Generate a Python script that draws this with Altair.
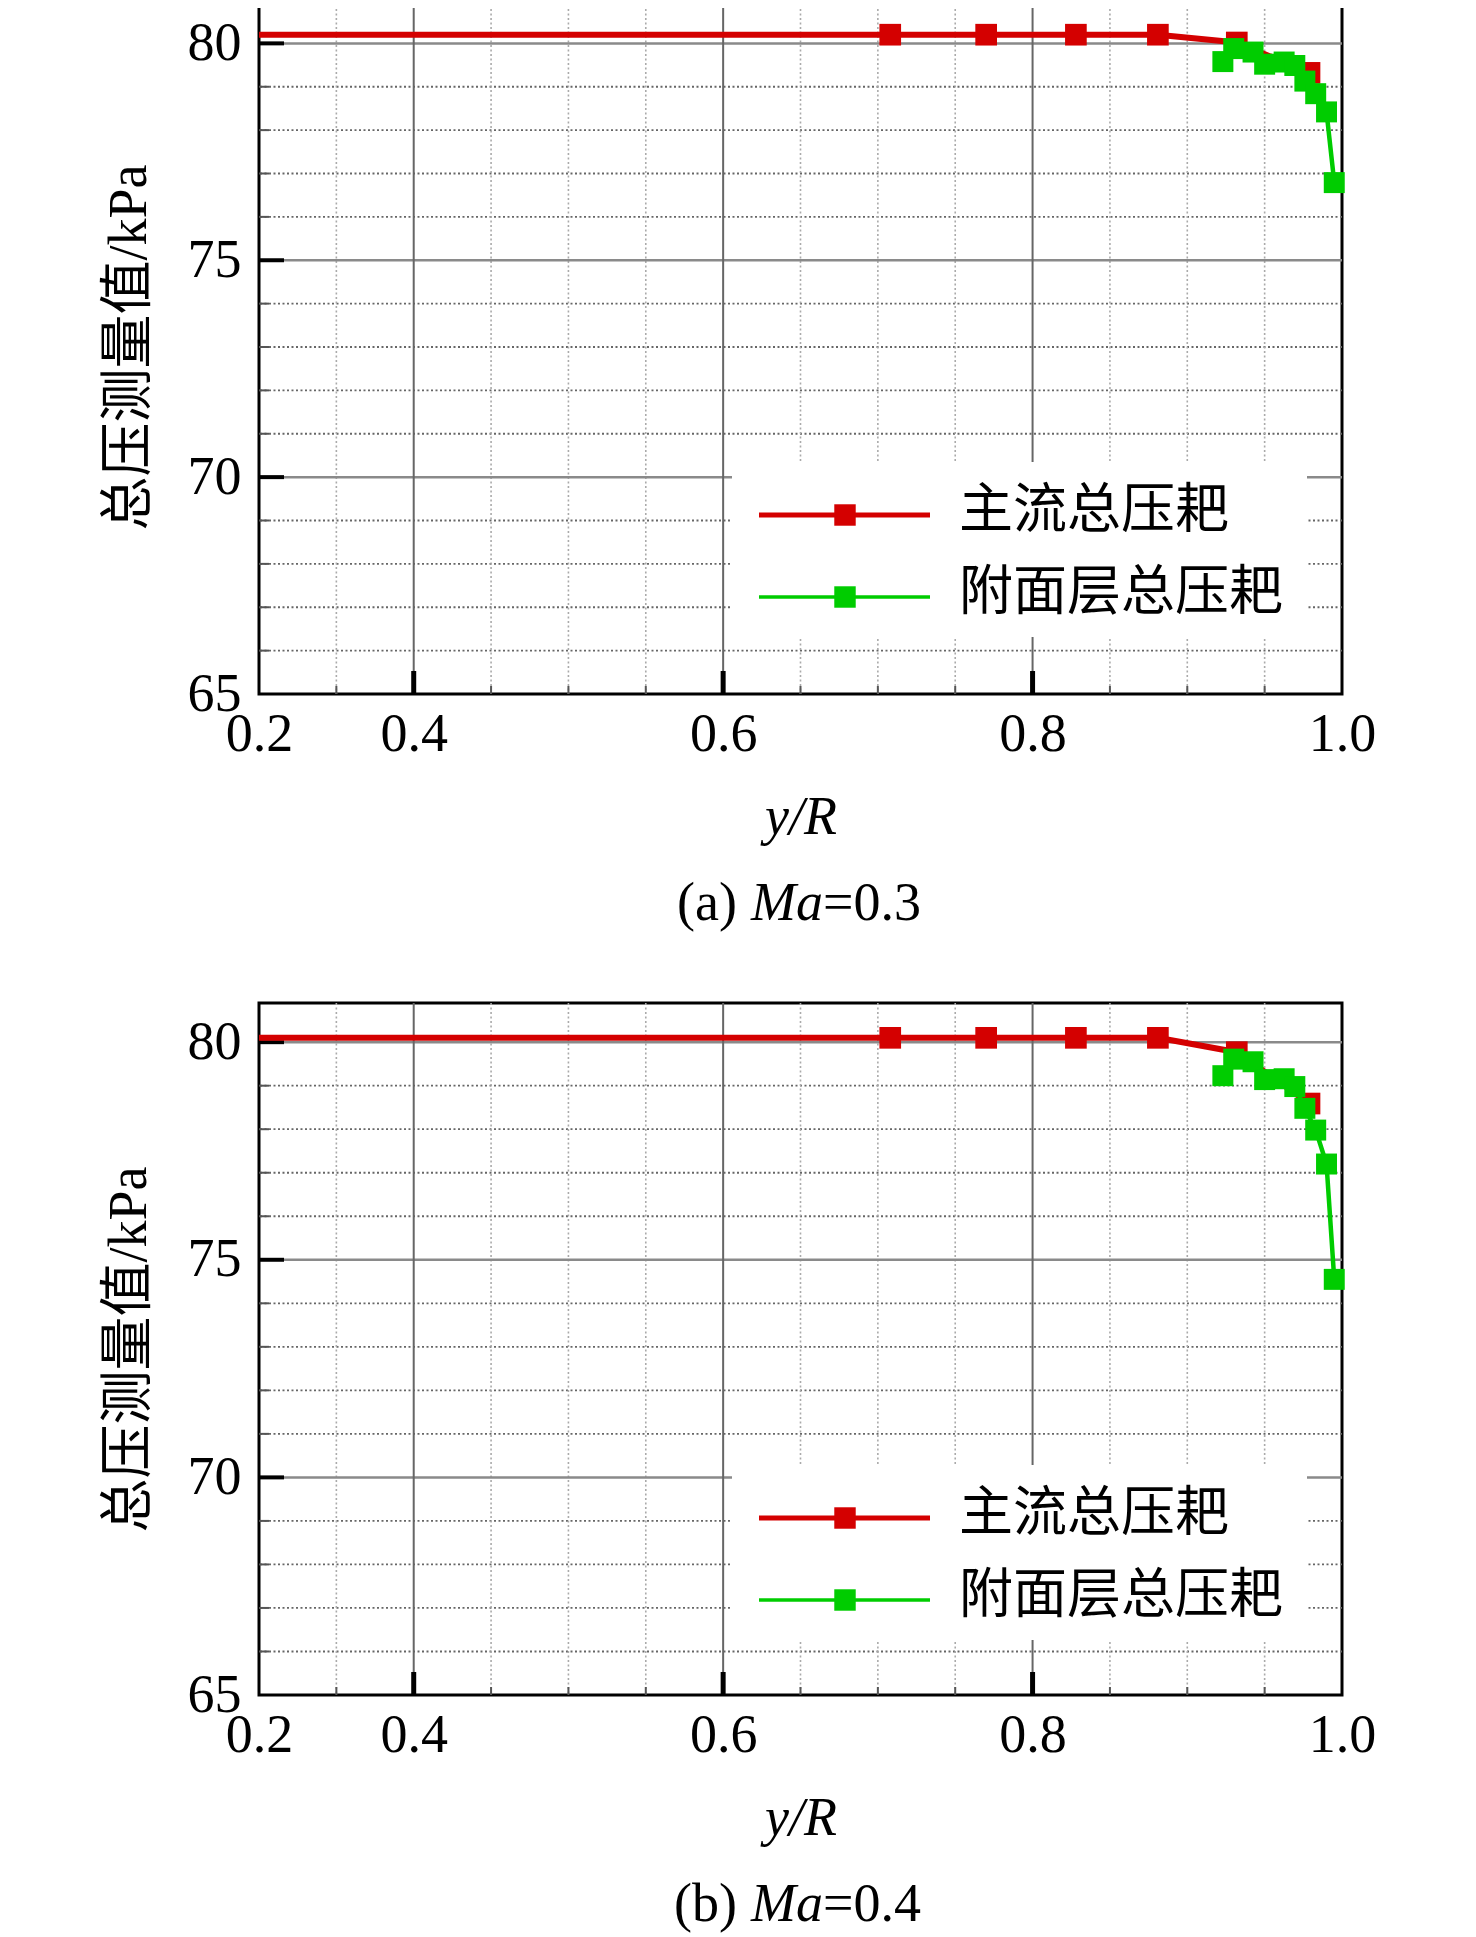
import altair as alt
import pandas as pd

# ---------------- data ----------------
series_names = ["主流总压耙", "附面层总压耙"]
series_colors = ["#d40000", "#00cc00"]

# main-flow rake (red); first point only carries the line to the left edge
red_x = [0.30, 0.708, 0.770, 0.828, 0.881, 0.932, 0.979]
red_marker = [False, True, True, True, True, True, True]
red_a = [80.2, 80.2, 80.2, 80.2, 80.2, 80.02, 79.32]
red_b = [80.1, 80.1, 80.1, 80.1, 80.1, 79.77, 78.59]

# boundary-layer rake (green)
green_x = [0.923, 0.930, 0.9425, 0.950, 0.9626, 0.9695, 0.976, 0.983, 0.990, 0.995]
green_a = [79.58, 79.88, 79.80, 79.52, 79.57, 79.49, 79.13, 78.84, 78.42, 76.79]
green_b = [79.23, 79.61, 79.55, 79.14, 79.16, 78.98, 78.48, 77.98, 77.20, 74.55]

x_tick_values = [0.3, 0.4, 0.6, 0.8, 1.0]
y_tick_values = [65, 70, 75, 80]
x_major = [0.4, 0.6, 0.8]
x_minor = [0.35, 0.45, 0.5, 0.55, 0.65, 0.7, 0.75, 0.85, 0.9, 0.95]
y_major = [70, 75, 80]
y_minor = [66, 67, 68, 69, 71, 72, 73, 74, 76, 77, 78, 79]

captions = [("(a)", "Ma", "=0.3"), ("(b)", "Ma", "=0.4")]

SERIF = "Liberation Serif, Times New Roman, serif"
CJK = "Liberation Serif, Noto Sans CJK SC, sans-serif"
FS = 54
W = 1083


def panel(red_y, green_y, ytop, H, cap):
    xs = alt.Scale(domain=[0.3, 1.0], nice=False, zero=False)
    ys = alt.Scale(domain=[65, ytop], nice=False, zero=False)
    xaxis = alt.Axis(
        values=x_tick_values,
        labelExpr="datum.value < 0.35 ? '0.2' : format(datum.value, '.1f')",
        grid=False, ticks=False, tickSize=0, domain=False,
        labelFont=SERIF, labelFontSize=FS, labelColor="black",
        labelPadding=13, labelFlush=False, labelOverlap=False,
        title="y/R", titleFont=SERIF, titleFontSize=FS, titleFontStyle="italic",
        titleFontWeight="normal", titleColor="black", titleY=139,
        titleBaseline="alphabetic",
    )
    yaxis = alt.Axis(
        values=y_tick_values, format="d",
        grid=False, ticks=False, tickSize=0, domain=False,
        labelFont=SERIF, labelFontSize=FS, labelColor="black",
        labelPadding=18, labelBaseline="middle", labelFlush=False, labelOverlap=False,
        title="总压测量值/kPa", titleFont=CJK, titleFontSize=FS,
        titleFontWeight="normal", titleColor="black",
        titleX=-130, titleY=H / 2, titleAngle=270, titleAlign="center",
        titleBaseline="middle",
    )
    X = alt.X("x:Q", scale=xs, axis=xaxis)
    Y = alt.Y("y:Q", scale=ys, axis=yaxis)

    layers = []
    # grid
    layers.append(alt.Chart(pd.DataFrame({"y": y_minor})).mark_rule(
        color="#666", strokeWidth=1.8, strokeDash=[2, 2.5]).encode(y=Y))
    layers.append(alt.Chart(pd.DataFrame({"x": x_minor})).mark_rule(
        color="#aaa", strokeWidth=1.6, strokeDash=[2, 2.5]).encode(x=X))
    layers.append(alt.Chart(pd.DataFrame({"y": y_major})).mark_rule(
        color="#8a8a8a", strokeWidth=2.5).encode(y=Y))
    layers.append(alt.Chart(pd.DataFrame({"x": x_major})).mark_rule(
        color="#666", strokeWidth=2).encode(x=X))
    # legend background
    layers.append(alt.Chart(pd.DataFrame({"k": [0]})).mark_rect(
        fill="white", stroke=None).encode(
        x=alt.value(473), x2=alt.value(1048), y=alt.value(462), y2=alt.value(637)))
    # inward ticks
    layers.append(alt.Chart(pd.DataFrame({"x": x_major})).mark_rule(
        color="black", strokeWidth=5).encode(x=X, y=alt.value(H), y2=alt.value(H - 23)))
    layers.append(alt.Chart(pd.DataFrame({"x": x_minor})).mark_rule(
        color="#555", strokeWidth=2).encode(x=X, y=alt.value(H), y2=alt.value(H - 8)))
    layers.append(alt.Chart(pd.DataFrame({"y": y_major})).mark_rule(
        color="black", strokeWidth=4).encode(y=Y, x=alt.value(0), x2=alt.value(25)))
    layers.append(alt.Chart(pd.DataFrame({"y": y_minor})).mark_rule(
        color="#555", strokeWidth=2).encode(y=Y, x=alt.value(0), x2=alt.value(10)))
    # data
    dred = pd.DataFrame({"x": red_x, "y": red_y, "marker": red_marker})
    dgreen = pd.DataFrame({"x": green_x, "y": green_y})
    layers.append(alt.Chart(dred).mark_line(color=series_colors[0], strokeWidth=6).encode(
        x=X, y=Y, order="x:Q"))
    layers.append(alt.Chart(dred).transform_filter("datum.marker").mark_point(
        shape="square", filled=True, size=470, color=series_colors[0], opacity=1).encode(x=X, y=Y))
    layers.append(alt.Chart(dgreen).mark_line(color=series_colors[1], strokeWidth=4.5).encode(
        x=X, y=Y, order="x:Q"))
    layers.append(alt.Chart(dgreen).mark_point(
        shape="square", filled=True, size=440, color=series_colors[1], opacity=1).encode(x=X, y=Y))
    # legend entries
    for i, (name, col) in enumerate(zip(series_names, series_colors)):
        ly = 515 + 82 * i
        one = pd.DataFrame({"name": [name]})
        layers.append(alt.Chart(one).mark_rule(color=col, strokeWidth=5 - 1.5 * i).encode(
            x=alt.value(500), x2=alt.value(671), y=alt.value(ly)))
        layers.append(alt.Chart(one).mark_point(
            shape="square", filled=True, size=460, color=col, opacity=1).encode(
            x=alt.value(586), y=alt.value(ly)))
        layers.append(alt.Chart(one).mark_text(
            align="left", baseline="middle", font=CJK, fontSize=FS, color="black").encode(
            x=alt.value(700), y=alt.value(ly - 3), text="name:N"))
    # caption with italic Ma
    cy = H + 226
    p1, p2, p3 = cap
    one = pd.DataFrame({"k": [0]})
    layers.append(alt.Chart(one).mark_text(
        text=p1, align="right", baseline="alphabetic", font=SERIF, fontSize=FS, color="black").encode(
        x=alt.value(478), y=alt.value(cy)))
    layers.append(alt.Chart(one).mark_text(
        text=p2, align="left", baseline="alphabetic", font=SERIF, fontSize=FS,
        fontStyle="italic", color="black").encode(x=alt.value(492), y=alt.value(cy)))
    layers.append(alt.Chart(one).mark_text(
        text=p3, align="left", baseline="alphabetic", font=SERIF, fontSize=FS, color="black").encode(
        x=alt.value(564), y=alt.value(cy)))

    return alt.layer(*layers).properties(width=W, height=H)


pa = panel(red_a, green_a, 81.0, 694, captions[0])
pb = panel(red_b, green_b, 80.9, 692, captions[1])

chart = alt.vconcat(pa, pb, spacing=309, bounds="flush").properties(
    padding={"left": 92, "top": -11, "right": 10, "bottom": 0}
).configure_view(stroke="black", strokeWidth=3)

chart.save("out.html", embed_options={"renderer": "svg", "actions": False})
